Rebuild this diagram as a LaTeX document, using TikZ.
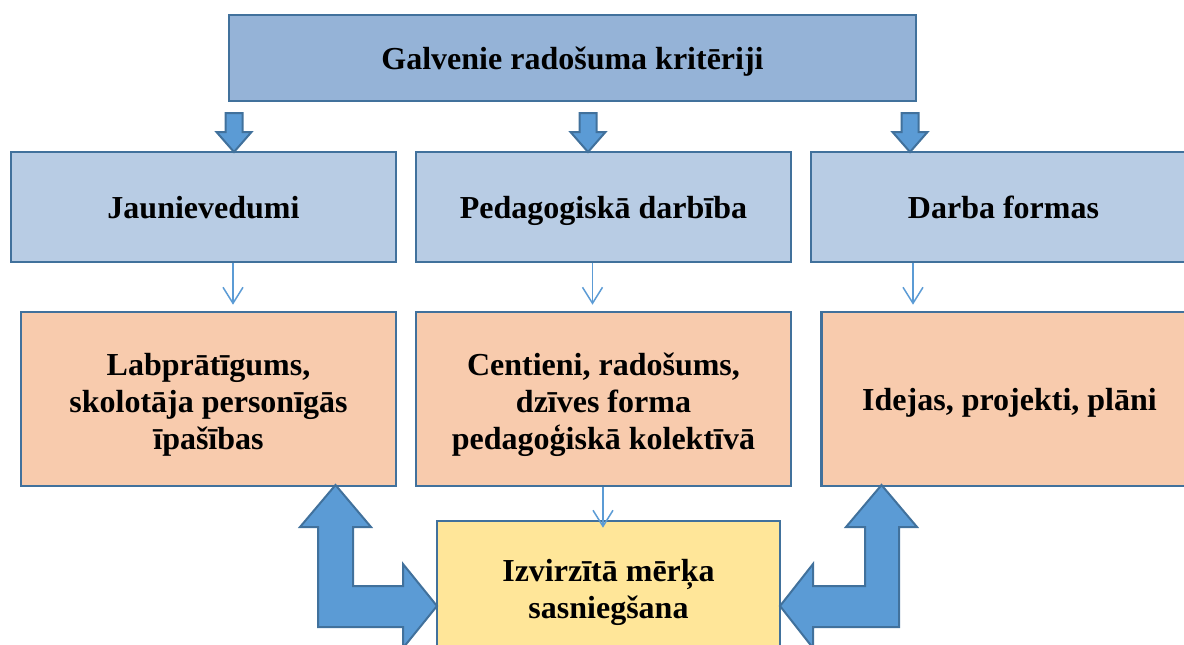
\documentclass[tikz,border=0pt]{standalone}
\usepackage{fontspec}
\setmainfont{Liberation Serif}
\usetikzlibrary{arrows.meta}
\definecolor{rim}{HTML}{41719C}
\definecolor{topfill}{HTML}{95B3D7}
\definecolor{catfill}{HTML}{B8CCE4}
\definecolor{tracefill}{HTML}{F8CBAD}
\definecolor{goalfill}{HTML}{FFE699}
\definecolor{arrfill}{HTML}{5B9BD5}
\tikzset{
  box/.style={draw=rim,line width=1.3pt,align=center,inner sep=0pt,
    font=\fontsize{16}{18.5}\selectfont\bfseries},
  oneline/.style={text height=13pt,text depth=2pt},
  topbox/.style={box,oneline,fill=topfill,minimum width=343.5pt,minimum height=43pt},
  catbox/.style={box,oneline,fill=catfill,minimum height=55pt},
  tracebox/.style={box,fill=tracefill,minimum height=87pt},
  goalbox/.style={box,fill=goalfill,minimum width=171.5pt,minimum height=71pt},
  blockarr/.style={draw=rim,fill=arrfill,line width=1pt,line join=miter},
  thinarr/.style={draw=arrfill,line width=0.75pt,-{Straight Barb[length=8pt,width=10pt]},shorten >=3pt}
}
\begin{document}
\begin{tikzpicture}[x=0.5pt,y=-0.5pt]
\useasboundingbox (0,0) rectangle (1184,644);
%% the boxes
\node[topbox] (crit) at (572.5,58) {Galvenie radošuma kritēriji};
\node[catbox,minimum width=192.5pt] (jaun) at (203.5,207) {Jaunievedumi};
\node[catbox,minimum width=187.5pt] (ped) at (603.5,207) {Pedagogiskā darbība};
\node[catbox,minimum width=192.5pt] (darb) at (1003.5,207) {Darba formas};
\node[tracebox,minimum width=187.5pt] (labp) at (208.5,399) {};
\node[tracebox,minimum width=187.5pt] (cent) at (603.5,399) {};
\node[tracebox,minimum width=188pt] (idej) at (1009.5,399) {};
\node[box,draw=none] (labpt) at (208.5,405) {Labprātīgums,\\skolotāja personīgās\\īpašības};
\node[box,draw=none] (centt) at (603.5,405) {Centieni, radošums,\\dzīves forma\\pedagoģiskā kolektīvā};
\node[box,draw=none,oneline] (idejt) at (1009.5,399) {Idejas, projekti, plāni};
\node[goalbox] (merk) at (608.5,592) {Izvirzītā mērķa\\sasniegšana};
%% the block arrows down
\draw[blockarr] (225.5,113)--(242.5,113)--(242.5,132)--(251.5,132)--(234,152)--(216.5,132)--(225.5,132)--cycle;
\draw[blockarr] (579.5,113)--(596.5,113)--(596.5,132)--(605.5,132)--(588,152)--(570.5,132)--(579.5,132)--cycle;
\draw[blockarr] (901.5,113)--(918.5,113)--(918.5,132)--(927.5,132)--(910,152)--(892.5,132)--(901.5,132)--cycle;
%% the thin arrows
\coordinate (k1) at (233,0);
\coordinate (k2) at (592.5,0);
\coordinate (k3) at (913,0);
\coordinate (k4) at (603,0);
\draw[thinarr] (jaun.south -| k1) -- (labp.north -| k1);
\draw[thinarr] (ped.south -| k2) -- (cent.north -| k2);
\draw[thinarr] (darb.south -| k3) -- (idej.north -| k3);
\draw[thinarr,shorten >=-4pt] (cent.south -| k4) -- (merk.north -| k4);
%% the bent arrows
\draw[blockarr] (335.5,485)--(371,527)--(353,527)--(353,586)--(403,586)--(403,564)--(437,606)
  --(403,648)--(403,627)--(318,627)--(318,527)--(300,527)--cycle;
\draw[blockarr] (881.5,485)--(917,527)--(899,527)--(899,627)--(813,627)--(813,648)--(780,606)
  --(813,564)--(813,586)--(865,586)--(865,527)--(846,527)--cycle;
\end{tikzpicture}
\end{document}
